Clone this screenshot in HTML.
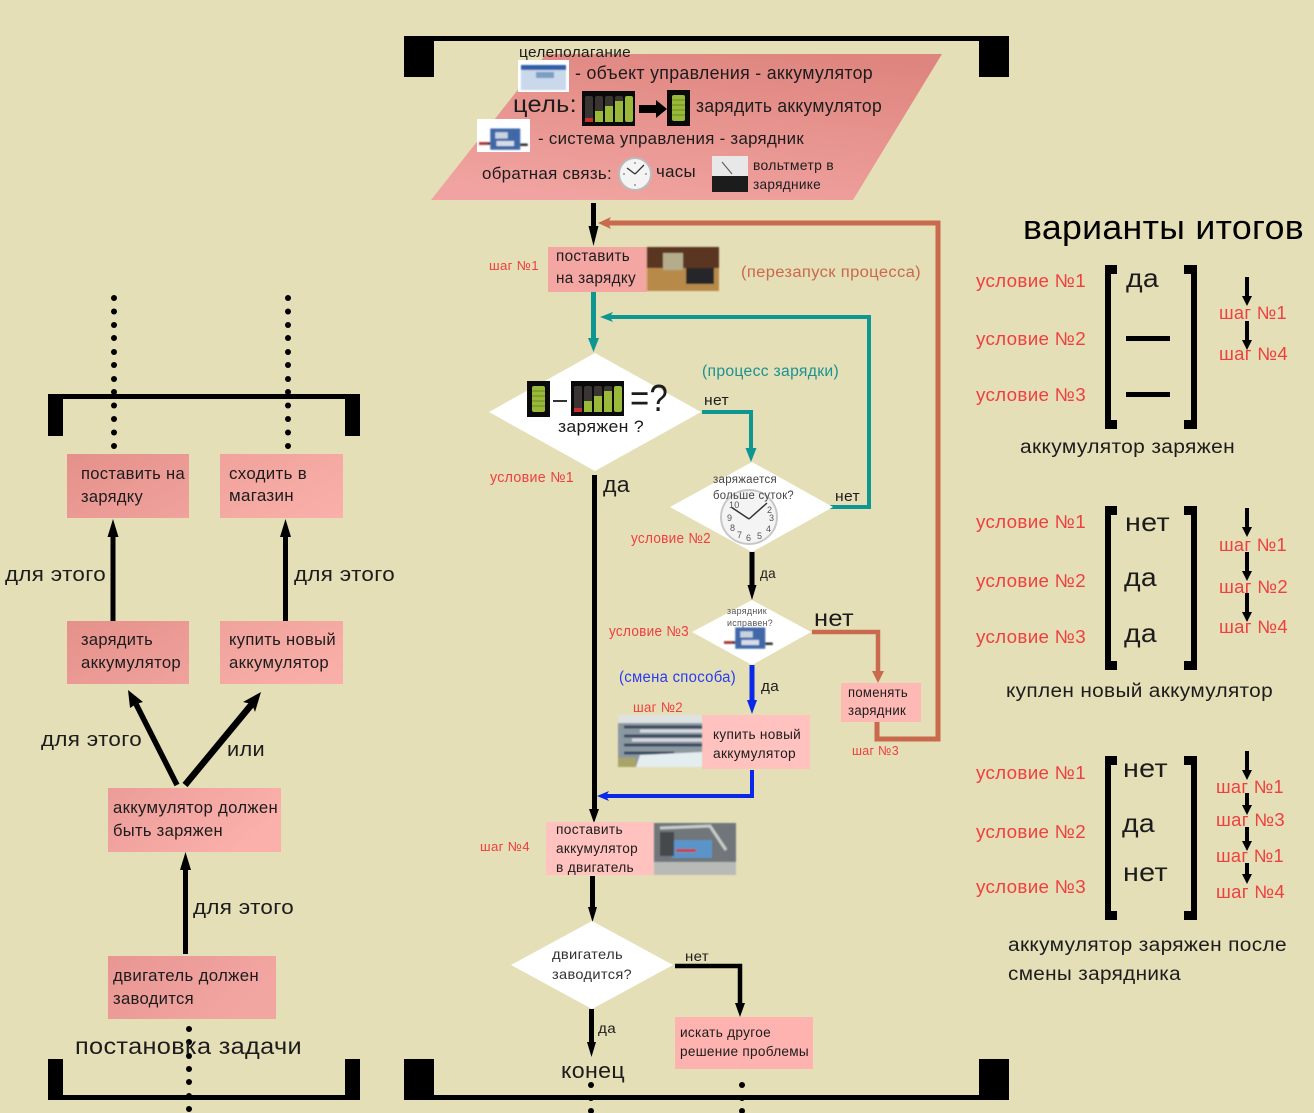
<!DOCTYPE html>
<html lang="ru"><head><meta charset="utf-8"><title>Диаграмма</title>
<style>
html,body{margin:0;padding:0;background:#e5dfb8}
svg{display:block}
text{font-family:"Liberation Sans",sans-serif;fill:#1c1c1c;letter-spacing:.3px}
.r{fill:#ee4040}
</style></head><body>
<svg width="1314" height="1113" viewBox="0 0 1314 1113" xmlns="http://www.w3.org/2000/svg">
<defs>
<linearGradient id="g0" x1=".75" y1="0" x2=".35" y2="1"><stop offset="0" stop-color="#df857f"/><stop offset="1" stop-color="#f0a3a0"/></linearGradient>
<linearGradient id="g2" x1="0" y1="0" x2="1" y2="1"><stop offset="0" stop-color="#e5908b"/><stop offset="1" stop-color="#f0a29c"/></linearGradient>
<linearGradient id="g3" x1="0" y1="0" x2="1" y2="1"><stop offset="0" stop-color="#f0a29c"/><stop offset="1" stop-color="#fab0aa"/></linearGradient>
<linearGradient id="g4" x1="0" y1="0" x2="1" y2=".4"><stop offset="0" stop-color="#eb9c98"/><stop offset="1" stop-color="#fbb0ac"/></linearGradient>
<linearGradient id="g5" x1="0" y1="0" x2="1" y2=".4"><stop offset="0" stop-color="#e99692"/><stop offset="1" stop-color="#f2a6a2"/></linearGradient>
<filter id="soft" x="-5%" y="-5%" width="110%" height="110%"><feGaussianBlur stdDeviation=".7"/></filter>
<g id="bat1"><rect x="0" y="0" width="23" height="36" fill="#0a0a0a"/><rect x="5" y="5" width="13" height="26" rx="2" fill="#9ab83a"/><path d="M5 10h13M5 15h13M5 20h13M5 25h13" stroke="#6c8a20"/></g>
<g id="bat5"><rect x="0" y="0" width="53" height="35" fill="#0a0a0a"/>
<rect x="3" y="5" width="8" height="26" rx="2" fill="#3a3432"/><rect x="3" y="27" width="8" height="4" fill="#c83030"/>
<rect x="13" y="5" width="8" height="26" rx="2" fill="#3a3432"/><rect x="13" y="20" width="8" height="11" fill="#9ab83a"/>
<rect x="23" y="5" width="8" height="26" rx="2" fill="#3a3432"/><rect x="23" y="15" width="8" height="16" fill="#9ab83a"/>
<rect x="33" y="5" width="8" height="26" rx="2" fill="#3a3432"/><rect x="33" y="10" width="8" height="21" fill="#9ab83a"/>
<rect x="43" y="5" width="8" height="26" rx="2" fill="#9ab83a"/></g>
<g id="clk"><circle r="16" fill="#f4f4f4" stroke="#bbb" stroke-width="2"/><path d="M0 0L-8 -6M0 0L9 -9" stroke="#333" stroke-width="1.3"/><path d="M0 -12v2M0 12v-2M-12 0h2M12 0h-2" stroke="#666"/></g>
<g id="chg"><rect width="24" height="17" x="9" y="2" fill="#3f68a8"/><rect x="13" y="5" width="10" height="5" fill="#c8d4e0"/><rect x="14" y="12" width="14" height="4" fill="#d6dde8"/><path d="M0 14h9M33 15h6" stroke="#333" stroke-width="2"/><rect x="0" y="13" width="7" height="2" fill="#b03030"/></g>
</defs>
<rect width="1314" height="1113" fill="#e5dfb8"/>

<!-- top bracket -->
<rect x="404" y="36" width="605" height="5" fill="#000"/>
<rect x="404" y="36" width="30" height="41" fill="#000"/>
<rect x="979" y="36" width="30" height="41" fill="#000"/>
<!-- bottom bracket -->
<rect x="404" y="1095" width="605" height="5" fill="#000"/>
<rect x="404" y="1059" width="30" height="41" fill="#000"/>
<rect x="979" y="1059" width="30" height="41" fill="#000"/>

<polygon points="546,54 942,54 853,200 431,200" fill="url(#g0)"/>
<text x="519" y="57" font-size="14.5" textLength="112" lengthAdjust="spacingAndGlyphs">целеполагание</text>
<rect x="518" y="60" width="51" height="32" fill="#fff"/>
<g filter="url(#soft)"><rect x="521" y="66" width="45" height="24" fill="#c9d8ea"/><rect x="521" y="65" width="45" height="5" fill="#2f5fa8"/><rect x="536" y="72" width="18" height="6" fill="#7c9cc4"/></g>
<text x="575" y="79" font-size="18" textLength="298" lengthAdjust="spacingAndGlyphs">- объект управления - аккумулятор</text>
<text x="513" y="112" font-size="23" textLength="64" lengthAdjust="spacingAndGlyphs">цель:</text>
<use href="#bat5" x="582" y="91"/>
<path d="M639 105h17v-5l11 9-11 9v-5h-17z" fill="#000"/>
<use href="#bat1" x="667" y="90"/>
<text x="696" y="112" font-size="18" textLength="186" lengthAdjust="spacingAndGlyphs">зарядить аккумулятор</text>
<rect x="477" y="119" width="53" height="33" fill="#fff"/>
<g filter="url(#soft)"><use href="#chg" transform="translate(479 126) scale(1.250)"/></g>
<text x="538" y="144" font-size="17" textLength="266" lengthAdjust="spacingAndGlyphs">- система управления - зарядник</text>
<text x="482" y="179" font-size="17" textLength="130" lengthAdjust="spacingAndGlyphs">обратная связь:</text>
<use href="#clk" x="635" y="174"/>
<text x="656" y="177" font-size="17" textLength="40" lengthAdjust="spacingAndGlyphs">часы</text>
<rect x="712" y="156" width="36" height="36" fill="#e8e8e8"/><rect x="712" y="176" width="36" height="16" fill="#1c1c1c"/><path d="M722 162l10 12" stroke="#555"/>
<text x="753" y="170" font-size="14" textLength="81" lengthAdjust="spacingAndGlyphs">вольтметр в</text>
<text x="753" y="189" font-size="14" textLength="68" lengthAdjust="spacingAndGlyphs">заряднике</text>

<!-- step 1 -->
<rect x="591" y="203" width="5" height="30" fill="#000"/><polygon points="588.500,226 598.500,226 593.500,246" fill="#000"/>
<rect x="548" y="247" width="99" height="45" fill="#f3a6a2"/>
<g filter="url(#soft)"><rect x="647" y="247" width="72" height="44" fill="#5a3424"/><rect x="647" y="268" width="72" height="23" fill="#b88a48"/><rect x="663" y="253" width="20" height="17" fill="#b4ac8c"/><rect x="686" y="268" width="28" height="16" fill="#25282a"/></g>
<text x="556" y="261" font-size="15.500" textLength="74" lengthAdjust="spacingAndGlyphs">поставить</text>
<text x="556" y="283" font-size="15.500" textLength="80" lengthAdjust="spacingAndGlyphs">на зарядку</text>
<text class="r" x="489" y="270" font-size="13" textLength="50" lengthAdjust="spacingAndGlyphs">шаг №1</text>
<text x="741" y="277" font-size="15.500" textLength="180" lengthAdjust="spacingAndGlyphs" style="fill:#c9694d">(перезапуск процесса)</text>

<!-- restart loop -->
<path d="M877 721v18h61V223H606" fill="none" stroke="#c9694d" stroke-width="5"/>
<polygon points="598,223 611,217 608,223 611,229" fill="#c9694d"/>
<!-- teal -->
<rect x="591" y="292" width="5" height="50" fill="#0e9693"/><polygon points="588,338 599,338 593.500,352" fill="#0e9693"/>
<path d="M606 317h263v190h-39" fill="none" stroke="#0e9693" stroke-width="4"/>
<polygon points="600,317 613,312 610,317 613,322" fill="#0e9693"/>
<path d="M702 412h49v40" fill="none" stroke="#0e9693" stroke-width="4"/>
<polygon points="745.500,448 756.500,448 751,462" fill="#0e9693"/>
<text x="702" y="376" font-size="15.500" textLength="137" lengthAdjust="spacingAndGlyphs" style="fill:#1b9290">(процесс зарядки)</text>

<!-- diamond 1 -->
<polygon points="595,353 701,412 595,471 489,412" fill="#fff"/>
<use href="#bat1" x="527" y="381"/>
<rect x="553" y="400" width="14" height="2" fill="#333"/>
<use href="#bat5" x="571" y="381"/>
<text x="630" y="411" font-size="38" textLength="38" lengthAdjust="spacingAndGlyphs">=?</text>
<text x="558" y="432" font-size="17" textLength="86" lengthAdjust="spacingAndGlyphs">заряжен ?</text>
<text x="704" y="405" font-size="14.500" textLength="25" lengthAdjust="spacingAndGlyphs">нет</text>
<text class="r" x="490" y="482" font-size="14.500" textLength="84" lengthAdjust="spacingAndGlyphs">условие №1</text>
<rect x="592" y="475" width="5" height="340" fill="#000"/>
<polygon points="589,809 599,809 594,823" fill="#000"/>
<text x="603" y="492" font-size="22" textLength="27" lengthAdjust="spacingAndGlyphs">да</text>

<!-- diamond 2 -->
<polygon points="752,462 833,507 752,552 670,507" fill="#fff"/>
<ellipse cx="749" cy="517" rx="28" ry="27" fill="#f4f4f4" stroke="#c8c8c8" stroke-width="2"/>
<path d="M749 519L731 507M749 519L767 503" stroke="#333" stroke-width="1.500"/>
<text x="729" y="508" font-size="9" style="fill:#555">10</text><text x="767" y="513" font-size="9" style="fill:#555">2</text><text x="769" y="521" font-size="9" style="fill:#555">3</text><text x="727" y="521" font-size="9" style="fill:#555">9</text><text x="730" y="531" font-size="9" style="fill:#555">8</text><text x="766" y="532" font-size="9" style="fill:#555">4</text><text x="746" y="541" font-size="9" style="fill:#555">6</text><text x="737" y="538" font-size="9" style="fill:#555">7</text><text x="757" y="539" font-size="9" style="fill:#555">5</text>
<text x="713" y="483" font-size="11.500" textLength="64" lengthAdjust="spacingAndGlyphs" style="fill:#444">заряжается</text>
<text x="713" y="499" font-size="11.500" textLength="81" lengthAdjust="spacingAndGlyphs" style="fill:#444">больше суток?</text>
<text x="835" y="501" font-size="14.500" textLength="25" lengthAdjust="spacingAndGlyphs">нет</text>
<text class="r" x="631" y="543" font-size="14.500" textLength="80" lengthAdjust="spacingAndGlyphs">условие №2</text>
<rect x="749.500" y="552" width="5" height="36" fill="#000"/><polygon points="747.500,585 756.500,585 752,600" fill="#000"/>
<text x="760" y="578" font-size="14" textLength="16" lengthAdjust="spacingAndGlyphs">да</text>

<!-- diamond 3 -->
<polygon points="752,600 811,632 752,665 692,632" fill="#fff"/>
<text x="727" y="614" font-size="9" textLength="40" lengthAdjust="spacingAndGlyphs" style="fill:#555">зарядник</text>
<text x="727" y="626" font-size="9" textLength="46" lengthAdjust="spacingAndGlyphs" style="fill:#555">исправен?</text>
<g filter="url(#soft)"><use href="#chg" transform="translate(724 625) scale(1.250)"/></g>
<text class="r" x="609" y="636" font-size="14.500" textLength="80" lengthAdjust="spacingAndGlyphs">условие №3</text>
<text x="814" y="626" font-size="23" textLength="40" lengthAdjust="spacingAndGlyphs">нет</text>
<path d="M812 632h66v42" fill="none" stroke="#c9694d" stroke-width="4.500"/>
<polygon points="872,671 884,671 878,683" fill="#c9694d"/>

<rect x="841" y="683" width="80" height="39" fill="#ffb9b5"/>
<text x="848" y="697" font-size="13.500" textLength="60" lengthAdjust="spacingAndGlyphs">поменять</text>
<text x="848" y="715" font-size="13.500" textLength="58" lengthAdjust="spacingAndGlyphs">зарядник</text>
<text class="r" x="852" y="755" font-size="13" textLength="47" lengthAdjust="spacingAndGlyphs">шаг №3</text>

<!-- blue -->
<rect x="749.500" y="665" width="5" height="38" fill="#0a28e8"/><polygon points="747,700 757,700 752,714" fill="#0a28e8"/>
<text x="619" y="682" font-size="15.500" textLength="117" lengthAdjust="spacingAndGlyphs" style="fill:#2a3cf0">(смена способа)</text>
<text x="761" y="691" font-size="14.500" textLength="18" lengthAdjust="spacingAndGlyphs">да</text>
<text class="r" x="633" y="712" font-size="14" textLength="50" lengthAdjust="spacingAndGlyphs">шаг №2</text>

<rect x="702" y="715" width="108" height="54" fill="#ffc2be"/>
<g filter="url(#soft)"><rect x="618" y="715" width="84" height="52" fill="#8c98a0"/>
<rect x="618" y="715" width="84" height="8" fill="#dfe2e2"/><path d="M624 727h78M624 736h78M624 745h78M624 753h50" stroke="#3a4a60" stroke-width="3"/><path d="M640 731h62M632 740h70" stroke="#d8d8e0" stroke-width="3"/><polygon points="640,755 702,752 702,767 636,767" fill="#e4eef0"/><rect x="618" y="758" width="18" height="9" fill="#a8a468"/></g>
<text x="713" y="739" font-size="14" textLength="88" lengthAdjust="spacingAndGlyphs">купить новый</text>
<text x="713" y="758" font-size="14" textLength="83" lengthAdjust="spacingAndGlyphs">аккумулятор</text>
<path d="M752 770v26H606" fill="none" stroke="#0a28e8" stroke-width="4"/>
<polygon points="597,796 609,791 606,796 609,801" fill="#0a28e8"/>

<!-- step 4 -->
<rect x="546" y="822" width="108" height="53" fill="#ffc2be"/>
<g filter="url(#soft)"><rect x="654" y="823" width="82" height="52" fill="#70767a"/><rect x="654" y="862" width="82" height="13" fill="#b8bab8"/><rect x="672" y="840" width="40" height="18" fill="#5a94c8"/><rect x="660" y="832" width="14" height="24" fill="#45494c"/><rect x="676" y="849" width="20" height="3" fill="#c84040"/><path d="M660 828l50 -2 16 24" stroke="#c8ccc8" stroke-width="3" fill="none"/></g>
<text x="556" y="834" font-size="13.500" textLength="67" lengthAdjust="spacingAndGlyphs">поставить</text>
<text x="556" y="853" font-size="13.500" textLength="82" lengthAdjust="spacingAndGlyphs">аккумулятор</text>
<text x="556" y="872" font-size="13.500" textLength="78" lengthAdjust="spacingAndGlyphs">в двигатель</text>
<text class="r" x="480" y="851" font-size="13" textLength="50" lengthAdjust="spacingAndGlyphs">шаг №4</text>
<rect x="590" y="876" width="5" height="34" fill="#000"/><polygon points="588,907 597,907 592.500,922" fill="#000"/>

<!-- diamond 4 -->
<polygon points="592,921 673,965 592,1009 511,965" fill="#fff"/>
<text x="552" y="959" font-size="14" textLength="71" lengthAdjust="spacingAndGlyphs" style="fill:#333">двигатель</text>
<text x="552" y="979" font-size="14" textLength="80" lengthAdjust="spacingAndGlyphs" style="fill:#333">заводится?</text>
<text x="685" y="961" font-size="14" textLength="24" lengthAdjust="spacingAndGlyphs">нет</text>
<path d="M675 966h65v42" fill="none" stroke="#000" stroke-width="4.500"/>
<polygon points="735,1003 745,1003 740,1017" fill="#000"/>
<rect x="675" y="1017" width="138" height="52" fill="#ffb3b0"/>
<text x="680" y="1037" font-size="14" textLength="91" lengthAdjust="spacingAndGlyphs">искать другое</text>
<text x="680" y="1056" font-size="14" textLength="129" lengthAdjust="spacingAndGlyphs">решение проблемы</text>
<rect x="589" y="1009" width="5" height="36" fill="#000"/><polygon points="587,1042 596,1042 591.500,1057" fill="#000"/>
<text x="598" y="1033" font-size="14" textLength="18" lengthAdjust="spacingAndGlyphs">да</text>
<text x="561" y="1078" font-size="22" textLength="64" lengthAdjust="spacingAndGlyphs">конец</text>
<g fill="#000"><circle cx="591" cy="1085" r="3"/><circle cx="591" cy="1098" r="3"/><circle cx="591" cy="1111" r="3"/><circle cx="742" cy="1085" r="3"/><circle cx="742" cy="1098" r="3"/><circle cx="742" cy="1111" r="3"/></g>

<!-- left column -->
<rect x="48" y="394" width="312" height="5" fill="#000"/>
<rect x="48" y="394" width="15" height="42" fill="#000"/>
<rect x="345" y="394" width="15" height="42" fill="#000"/>
<rect x="48" y="1095" width="312" height="5" fill="#000"/>
<rect x="48" y="1059" width="15" height="41" fill="#000"/>
<rect x="345" y="1059" width="15" height="41" fill="#000"/>
<g fill="#000">
<circle cx="114" cy="298" r="3"/><circle cx="114" cy="311.500" r="3"/><circle cx="114" cy="325" r="3"/><circle cx="114" cy="338" r="3"/><circle cx="114" cy="352" r="3"/><circle cx="114" cy="365" r="3"/><circle cx="114" cy="379" r="3"/><circle cx="114" cy="392" r="3"/><circle cx="114" cy="405.500" r="3"/><circle cx="114" cy="419" r="3"/><circle cx="114" cy="432.500" r="3"/><circle cx="114" cy="446" r="3"/>
<circle cx="288" cy="298" r="3"/><circle cx="288" cy="311.500" r="3"/><circle cx="288" cy="325" r="3"/><circle cx="288" cy="338" r="3"/><circle cx="288" cy="352" r="3"/><circle cx="288" cy="365" r="3"/><circle cx="288" cy="379" r="3"/><circle cx="288" cy="392" r="3"/><circle cx="288" cy="405.500" r="3"/><circle cx="288" cy="419" r="3"/><circle cx="288" cy="432.500" r="3"/><circle cx="288" cy="446" r="3"/>
<circle cx="189" cy="1029" r="3"/><circle cx="189" cy="1042" r="3"/><circle cx="189" cy="1056" r="3"/><circle cx="189" cy="1069" r="3"/><circle cx="189" cy="1082" r="3"/><circle cx="189" cy="1096" r="3"/><circle cx="189" cy="1109" r="3"/>
</g>
<rect x="67" y="454" width="122" height="64" fill="url(#g2)"/>
<rect x="220" y="454" width="123" height="64" fill="url(#g3)"/>
<rect x="67" y="621" width="122" height="63" fill="url(#g2)"/>
<rect x="220" y="621" width="123" height="63" fill="url(#g3)"/>
<rect x="108" y="788" width="173" height="64" fill="url(#g4)"/>
<rect x="108" y="956" width="168" height="63" fill="url(#g5)"/>
<text x="81" y="479" font-size="16.500" textLength="104" lengthAdjust="spacingAndGlyphs">поставить на</text>
<text x="81" y="502" font-size="16.500" textLength="62" lengthAdjust="spacingAndGlyphs">зарядку</text>
<text x="229" y="479" font-size="16.500" textLength="78" lengthAdjust="spacingAndGlyphs">сходить в</text>
<text x="229" y="501" font-size="16.500" textLength="65" lengthAdjust="spacingAndGlyphs">магазин</text>
<text x="81" y="645" font-size="16.500" textLength="72" lengthAdjust="spacingAndGlyphs">зарядить</text>
<text x="81" y="668" font-size="16.500" textLength="100" lengthAdjust="spacingAndGlyphs">аккумулятор</text>
<text x="229" y="645" font-size="16.500" textLength="107" lengthAdjust="spacingAndGlyphs">купить новый</text>
<text x="229" y="668" font-size="16.500" textLength="100" lengthAdjust="spacingAndGlyphs">аккумулятор</text>
<text x="113" y="813" font-size="16.500" textLength="165" lengthAdjust="spacingAndGlyphs">аккумулятор должен</text>
<text x="113" y="836" font-size="16.500" textLength="110" lengthAdjust="spacingAndGlyphs">быть заряжен</text>
<text x="113" y="981" font-size="16.500" textLength="146" lengthAdjust="spacingAndGlyphs">двигатель должен</text>
<text x="113" y="1004" font-size="16.500" textLength="81" lengthAdjust="spacingAndGlyphs">заводится</text>

<rect x="110.500" y="535" width="5" height="86" fill="#000"/><polygon points="107.500,537 118.500,537 113,519" fill="#000"/>
<rect x="283" y="535" width="5" height="86" fill="#000"/><polygon points="280,537 291,537 285.500,519" fill="#000"/>
<rect x="183" y="868" width="5" height="86" fill="#000"/><polygon points="180,870 191,870 185.500,852" fill="#000"/>
<path d="M177 785L136 704" stroke="#000" stroke-width="5.500" fill="none"/>
<polygon points="128,690 143,702 136,704 130,708" fill="#000"/>
<path d="M185 785L252 704" stroke="#000" stroke-width="6.500" fill="none"/>
<polygon points="261,692 255,712 252,704 243,702" fill="#000"/>
<text x="5" y="581" font-size="20" textLength="101" lengthAdjust="spacingAndGlyphs">для этого</text>
<text x="294" y="581" font-size="20" textLength="101" lengthAdjust="spacingAndGlyphs">для этого</text>
<text x="41" y="746" font-size="20" textLength="101" lengthAdjust="spacingAndGlyphs">для этого</text>
<text x="227" y="756" font-size="20" textLength="38" lengthAdjust="spacingAndGlyphs">или</text>
<text x="193" y="914" font-size="20" textLength="101" lengthAdjust="spacingAndGlyphs">для этого</text>
<text x="75" y="1054" font-size="23" textLength="227" lengthAdjust="spacingAndGlyphs">постановка задачи</text>

<!-- right column -->
<text x="1023" y="239" font-size="34" textLength="281" lengthAdjust="spacingAndGlyphs" style="fill:#000">варианты итогов</text>

<g id="b1" fill="#000">
<rect x="1105" y="265" width="6" height="164"/><rect x="1105" y="265" width="12" height="9"/><rect x="1105" y="420" width="12" height="9"/>
<rect x="1191" y="265" width="6" height="164"/><rect x="1184" y="265" width="13" height="9"/><rect x="1184" y="420" width="13" height="9"/>
</g>
<use href="#b1" y="241"/>
<use href="#b1" y="491"/>

<text class="r" x="976" y="287" font-size="18.500" textLength="110" lengthAdjust="spacingAndGlyphs">условие №1</text>
<text class="r" x="976" y="345" font-size="18.500" textLength="110" lengthAdjust="spacingAndGlyphs">условие №2</text>
<text class="r" x="976" y="401" font-size="18.500" textLength="110" lengthAdjust="spacingAndGlyphs">условие №3</text>
<text class="r" x="976" y="528" font-size="18.500" textLength="110" lengthAdjust="spacingAndGlyphs">условие №1</text>
<text class="r" x="976" y="587" font-size="18.500" textLength="110" lengthAdjust="spacingAndGlyphs">условие №2</text>
<text class="r" x="976" y="643" font-size="18.500" textLength="110" lengthAdjust="spacingAndGlyphs">условие №3</text>
<text class="r" x="976" y="779" font-size="18.500" textLength="110" lengthAdjust="spacingAndGlyphs">условие №1</text>
<text class="r" x="976" y="838" font-size="18.500" textLength="110" lengthAdjust="spacingAndGlyphs">условие №2</text>
<text class="r" x="976" y="893" font-size="18.500" textLength="110" lengthAdjust="spacingAndGlyphs">условие №3</text>
<text x="1126" y="287" font-size="26" textLength="33" lengthAdjust="spacingAndGlyphs">да</text>
<rect x="1126" y="336" width="44" height="5" fill="#000"/>
<rect x="1126" y="392" width="44" height="5" fill="#000"/>
<text x="1125" y="531" font-size="26" textLength="45" lengthAdjust="spacingAndGlyphs">нет</text>
<text x="1124" y="586" font-size="26" textLength="33" lengthAdjust="spacingAndGlyphs">да</text>
<text x="1124" y="642" font-size="26" textLength="33" lengthAdjust="spacingAndGlyphs">да</text>
<text x="1123" y="777" font-size="26" textLength="45" lengthAdjust="spacingAndGlyphs">нет</text>
<text x="1122" y="832" font-size="26" textLength="33" lengthAdjust="spacingAndGlyphs">да</text>
<text x="1123" y="881" font-size="26" textLength="45" lengthAdjust="spacingAndGlyphs">нет</text>
<text x="1020" y="453" font-size="19" textLength="215" lengthAdjust="spacingAndGlyphs">аккумулятор заряжен</text>
<text x="1006" y="697" font-size="19" textLength="267" lengthAdjust="spacingAndGlyphs">куплен новый аккумулятор</text>
<text x="1008" y="951" font-size="19" textLength="279" lengthAdjust="spacingAndGlyphs">аккумулятор заряжен после</text>
<text x="1008" y="980" font-size="19" textLength="173" lengthAdjust="spacingAndGlyphs">смены зарядника</text>

<text class="r" x="1219" y="319" font-size="18" textLength="68" lengthAdjust="spacingAndGlyphs">шаг №1</text>
<text class="r" x="1219" y="360" font-size="18" textLength="69" lengthAdjust="spacingAndGlyphs">шаг №4</text>
<text class="r" x="1219" y="551" font-size="18" textLength="68" lengthAdjust="spacingAndGlyphs">шаг №1</text>
<text class="r" x="1219" y="593" font-size="18" textLength="69" lengthAdjust="spacingAndGlyphs">шаг №2</text>
<text class="r" x="1219" y="633" font-size="18" textLength="69" lengthAdjust="spacingAndGlyphs">шаг №4</text>
<text class="r" x="1216" y="793" font-size="18" textLength="68" lengthAdjust="spacingAndGlyphs">шаг №1</text>
<text class="r" x="1216" y="826" font-size="18" textLength="69" lengthAdjust="spacingAndGlyphs">шаг №3</text>
<text class="r" x="1216" y="862" font-size="18" textLength="68" lengthAdjust="spacingAndGlyphs">шаг №1</text>
<text class="r" x="1216" y="898" font-size="18" textLength="69" lengthAdjust="spacingAndGlyphs">шаг №4</text>

<g fill="#000">
<path d="M1245 277h4v19h3l-5 10-5-10h3z"/>
<path d="M1245 321h4v19h3l-5 10-5-10h3z"/>
<path d="M1245 508h4v19h3l-5 10-5-10h3z"/>
<path d="M1245 552h4v19h3l-5 10-5-10h3z"/>
<path d="M1245 593h4v19h3l-5 10-5-10h3z"/>
<path d="M1245 751h4v19h3l-5 10-5-10h3z"/>
<path d="M1245 793h4v12h3l-5 10-5-10h3z"/>
<path d="M1245 827h4v14h3l-5 10-5-10h3z"/>
<path d="M1245 863h4v11h3l-5 10-5-10h3z"/>
</g>
</svg>
</body></html>
